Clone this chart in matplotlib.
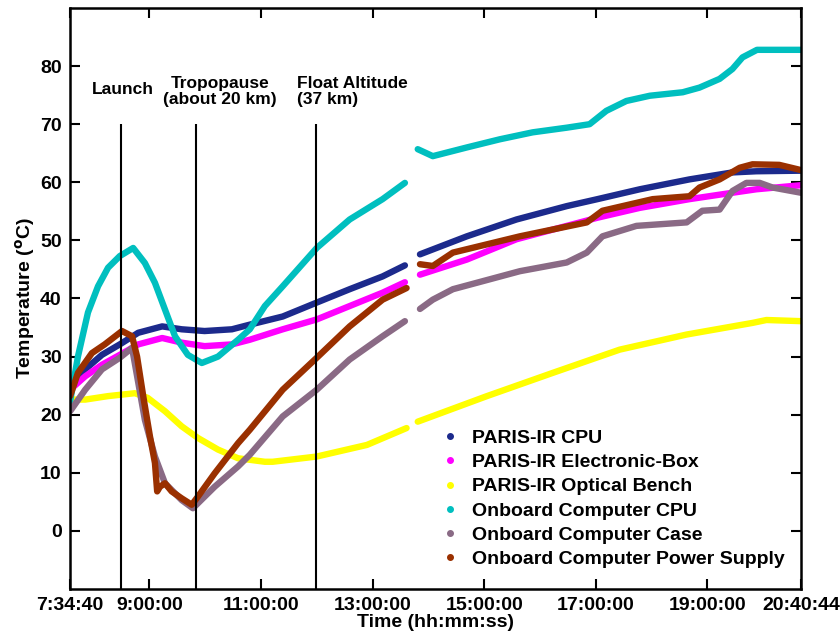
import numpy as np
from matplotlib import pyplot as plt
from matplotlib.lines import Line2D

plt.rcParams['font.family'] = ['Liberation Sans', 'DejaVu Sans']
plt.rcParams['font.weight'] = 'bold'
plt.rcParams['axes.labelweight'] = 'bold'

nan = np.nan

# time in decimal hours, nan marks the data gap
t_cpu = [7.58, 7.85, 8.15, 8.47, 8.80, 9.23, 9.58, 9.99, 10.48, 10.80, 11.39, 12.00, 12.59, 13.18, 13.58, nan,
         13.85, 14.69, 15.58, 16.48, 17.03, 17.79, 18.68, 19.45, 19.88, 20.68]
y_cpu = [24.9, 27.8, 30.3, 32.1, 34.1, 35.2, 34.7, 34.4, 34.7, 35.5, 36.9, 39.3, 41.6, 43.8, 45.7, nan,
         47.6, 50.7, 53.6, 55.9, 57.1, 58.8, 60.5, 61.7, 61.9, 62.0]

t_ebox = [7.58, 7.85, 8.15, 8.47, 8.80, 9.23, 9.58, 9.99, 10.48, 10.80, 11.39, 12.00, 12.59, 13.18, 13.58, nan,
          13.85, 14.69, 15.58, 16.48, 17.03, 17.79, 18.68, 19.45, 19.88, 20.68]
y_ebox = [24.3, 26.6, 28.6, 30.3, 32.1, 33.2, 32.4, 31.8, 32.1, 32.9, 34.7, 36.4, 38.7, 41.0, 42.8, nan,
          44.1, 46.7, 50.2, 52.5, 53.9, 55.6, 57.1, 58.2, 58.8, 59.5]

t_bench = [7.58, 7.85, 8.26, 8.74, 8.97, 9.28, 9.58, 9.87, 10.23, 10.59, 11.07, 11.21, 12.00, 12.90, 13.61, nan,
           13.81, 15.05, 16.23, 17.43, 18.63, 19.81, 20.06, 20.68]
y_bench = [22.6, 22.6, 23.2, 23.7, 22.9, 20.6, 18.0, 16.0, 14.0, 12.5, 11.9, 11.9, 12.8, 14.8, 17.7, nan,
           18.8, 23.2, 27.2, 31.2, 33.8, 35.8, 36.3, 36.1]

t_occpu = [7.58, 7.72, 7.90, 8.08, 8.26, 8.47, 8.71, 8.92, 9.10, 9.28, 9.46, 9.69, 9.94, 10.23, 10.59, 10.80,
           11.07, 11.39, 12.00, 12.59, 13.18, 13.58, nan,
           13.81, 14.08, 14.69, 15.28, 15.87, 16.48, 16.89, 17.19, 17.55, 17.97, 18.56, 18.86, 19.22, 19.45,
           19.63, 19.89, 20.68]
y_occpu = [22.3, 30.0, 37.6, 42.1, 45.3, 47.3, 48.7, 46.1, 42.7, 38.1, 33.5, 30.3, 28.9, 30.0, 32.9, 34.7,
           38.7, 42.1, 48.7, 53.6, 57.1, 59.9, nan,
           65.7, 64.5, 66.0, 67.4, 68.6, 69.4, 70.0, 72.3, 74.0, 74.9, 75.5, 76.3, 77.8, 79.5,
           81.5, 82.8, 82.8]

t_case = [7.58, 7.85, 8.15, 8.47, 8.69, 8.92, 9.10, 9.28, 9.58, 9.78, 10.17, 10.59, 10.80, 11.39, 12.00, 12.59,
          13.18, 13.58, nan,
          13.85, 14.08, 14.44, 15.64, 16.48, 16.84, 17.12, 17.73, 18.63, 18.91, 19.22, 19.45, 19.70, 19.94,
          20.17, 20.68]
y_case = [20.6, 24.3, 27.8, 29.8, 31.5, 19.1, 12.8, 8.2, 5.3, 3.9, 7.6, 11.1, 13.1, 19.7, 24.3, 29.5,
          33.5, 36.1, nan,
          38.2, 39.8, 41.6, 44.7, 46.2, 47.9, 50.7, 52.5, 53.1, 55.1, 55.3, 58.5, 59.9, 59.9,
          59.1, 58.2]

t_power = [7.58, 7.72, 7.97, 8.20, 8.51, 8.69, 8.78, 8.89, 9.01, 9.10, 9.14, 9.19, 9.28, 9.40, 9.58, 9.76,
           9.87, 10.17, 10.59, 10.80, 11.39, 12.00, 12.59, 13.18, 13.61, nan,
           13.85, 14.08, 14.44, 15.64, 16.84, 17.12, 18.02, 18.68, 18.86, 19.22, 19.58, 19.81, 20.29, 20.68]
y_power = [23.2, 27.2, 30.6, 32.1, 34.4, 33.5, 30.0, 23.2, 16.3, 11.7, 6.8, 7.6, 8.2, 6.8, 5.6, 4.5,
           5.9, 9.9, 15.1, 17.4, 24.3, 29.8, 35.2, 39.8, 41.8, nan,
           45.9, 45.6, 47.9, 50.7, 53.1, 55.1, 57.1, 57.6, 59.1, 60.5, 62.5, 63.1, 63.0, 62.1]

labels = ['PARIS-IR CPU', 'PARIS-IR Electronic-Box', 'PARIS-IR Optical Bench',
          'Onboard Computer CPU', 'Onboard Computer Case', 'Onboard Computer Power Supply']
colors = ['#1c2a8c', '#ff00ff', '#ffff00', '#00bfbf', '#8a6a85', '#9a3000']

events = [8.49, 9.835, 11.985]
event_names = ['Launch', 'Tropopause\n(about 20 km)', 'Float Altitude\n(37 km)']

t_start, t_end = 7.5778, 20.6789
xticks = [t_start, 9, 11, 13, 15, 17, 19, t_end]
xticklabels = ['7:34:40', '9:00:00', '11:00:00', '13:00:00', '15:00:00', '17:00:00', '19:00:00', '20:40:44']

fig = plt.figure(figsize=(8.4, 6.38), dpi=100)
ax = fig.add_axes([70 / 840, 1 - 589 / 638, 731 / 840, 581 / 638])

series = [(t_cpu, y_cpu), (t_ebox, y_ebox), (t_bench, y_bench),
          (t_occpu, y_occpu), (t_case, y_case), (t_power, y_power)]
for (t, y), c in zip(series, colors):
    ax.plot(t, y, color=c, lw=4.6, solid_capstyle='round', solid_joinstyle='round')

ax.vlines(events, -10, 70, color='black', lw=1.5)
ax.text(events[0] + 0.04, 76, event_names[0], ha='center', va='center', fontsize=12.5)
ax.text(10.26, 75.6, event_names[1], ha='center', va='center', fontsize=12.5, linespacing=1.05)
ax.text(11.64, 75.6, event_names[2], ha='left', va='center', fontsize=12.5, linespacing=1.05)

ax.set_xlim(t_start, t_end)
ax.set_ylim(-10, 90)
ax.set_xticks(xticks)
ax.set_xticklabels(xticklabels)
ax.set_yticks(range(0, 81, 10))
ax.tick_params(direction='in', length=7, width=1.5, labelsize=14, top=True, right=True, pad=6)
for s in ax.spines.values():
    s.set_linewidth(1.8)

ax.set_xlabel('Time (hh:mm:ss)', fontsize=14, labelpad=0)
ax.set_ylabel(r'Temperature ($^{\mathbf{o}}$C)', fontsize=14, labelpad=2)

handles = [Line2D([], [], ls='none', marker='o', ms=4, color=c) for c in colors]
ax.legend(handles, labels, loc='lower left', bbox_to_anchor=(0.483, 0.006), frameon=False,
          fontsize=14, handlelength=1.0, handletextpad=0.6, labelspacing=0.34)

plt.savefig('out.png', dpi=100)
